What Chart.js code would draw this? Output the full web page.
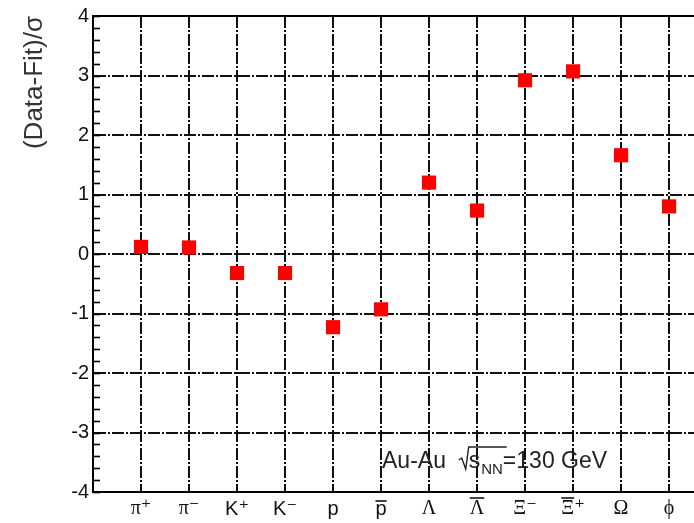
<!DOCTYPE html>
<html><head><meta charset="utf-8">
<style>html,body{margin:0;padding:0;background:#fff;overflow:hidden}#wrap{width:694px;height:523px;position:relative;overflow:hidden}</style>
<script src="https://cdn.jsdelivr.net/npm/chart.js@4/dist/chart.umd.min.js"></script>
</head><body><div id="wrap"><canvas id="c" width="704" height="523"></canvas></div>
<script>
const particles = ['π\u207A', 'π\u207B', 'K\u207A', 'K\u207B', 'p', 'p', 'Λ', 'Λ', 'Ξ\u207B', 'Ξ\u207A', 'Ω', '\u03D5'];
const antiparticle = [false, false, false, false, false, true, false, true, false, true, false, false];
const deviations = [0.12, 0.11, -0.32, -0.32, -1.23, -0.93, 1.20, 0.73, 2.92, 3.07, 1.66, 0.80];
const yTickValues = [-4, -3, -2, -1, 0, 1, 2, 3, 4];
const yMinorStep = 0.2;
const annotationText = ['Au-Au  ', 's', 'NN', '=130 GeV'];

const FONT = "'Liberation Sans', Arial, 'DejaVu Sans', sans-serif";
const SERIF = "'Liberation Serif', 'DejaVu Serif', serif";
const DASH = [12, 2, 2, 2];
const isGreek = s => /[\u0370-\u03FF]/.test(s);
const labelFont = label => ({family: isGreek(label) ? SERIF : FONT, size: 20});

const decorations = {
  id: 'decorations',
  beforeDatasetsDraw(chart) {
    const {ctx, chartArea: a, scales: {x, y}} = chart;
    ctx.save();
    ctx.strokeStyle = '#000';
    ctx.lineWidth = 2;
    // top frame line
    ctx.beginPath(); ctx.moveTo(a.left - 1, a.top); ctx.lineTo(a.right, a.top); ctx.stroke();
    // minor ticks on y axis
    ctx.lineWidth = 1.6;
    const n = Math.round((y.max - y.min) / yMinorStep);
    for (let i = 0; i <= n; i++) {
      const v = y.min + i * yMinorStep;
      const py = Math.round(y.getPixelForValue(v)) + 0.5;
      ctx.beginPath(); ctx.moveTo(a.left, py); ctx.lineTo(a.left + 7, py); ctx.stroke();
    }
    // overlines for antiparticle labels
    ctx.lineWidth = 1.6;
    ctx.strokeStyle = '#111';
    particles.forEach((lab, i) => {
      if (!antiparticle[i]) return;
      const f = labelFont(lab);
      ctx.font = f.size + 'px ' + f.family;
      const total = ctx.measureText(lab).width;
      const baseW = ctx.measureText(lab[0]).width;
      const px = x.getPixelForValue(i + 1);
      const x0 = px - total / 2;
      const yb = a.bottom + (lab[0] === 'p' ? 9 : 6);
      ctx.beginPath(); ctx.moveTo(x0, yb); ctx.lineTo(x0 + baseW, yb); ctx.stroke();
    });
    ctx.restore();
  },
  afterDraw(chart) {
    const {ctx} = chart;
    ctx.save();
    ctx.fillStyle = '#222';
    ctx.textBaseline = 'alphabetic';
    ctx.font = '23px ' + FONT;
    let x = 382, base = 468;
    ctx.fillText(annotationText[0], x, base);
    x += ctx.measureText(annotationText[0]).width;
    // sqrt sign
    ctx.strokeStyle = '#222'; ctx.lineWidth = 1.4;
    ctx.beginPath();
    ctx.moveTo(x, base - 8); ctx.lineTo(x + 3, base - 10); ctx.lineTo(x + 7, base + 1); ctx.lineTo(x + 10, base - 21); ctx.lineTo(x + 48, base - 21);
    ctx.stroke();
    x += 10;
    ctx.fillText(annotationText[1], x, base);
    x += ctx.measureText(annotationText[1]).width + 1;
    ctx.font = '15px ' + FONT;
    ctx.fillText(annotationText[2], x, base + 6);
    x += ctx.measureText(annotationText[2]).width;
    ctx.font = '23px ' + FONT;
    ctx.fillText(annotationText[3], x, base);
    ctx.restore();
  }
};

new Chart(document.getElementById('c'), {
  type: 'scatter',
  data: {
    datasets: [{
      data: deviations.map((d, i) => ({x: i + 1, y: d})),
      pointStyle: 'rect',
      pointRadius: 10,
      pointHoverRadius: 10,
      backgroundColor: '#ff0000',
      borderWidth: 0,
      showLine: false
    }]
  },
  options: {
    responsive: false,
    animation: false,
    devicePixelRatio: 1,
    layout: {padding: {top: 13, right: 0, bottom: 0, left: 0}},
    plugins: {legend: {display: false}, tooltip: {enabled: false}},
    scales: {
      x: {
        type: 'linear', min: 0, max: 12.52,
        afterBuildTicks: s => { s.ticks = particles.map((p, i) => ({value: i + 1})); },
        afterFit: s => { s.height = 31; },
        ticks: {
          callback: v => particles[v - 1],
          font: c => labelFont(particles[(c.tick ? c.tick.value : 1) - 1] || ''),
          color: '#111', padding: 5, maxRotation: 0, autoSkip: false
        },
        grid: {color: '#111', lineWidth: 2, drawTicks: false},
        border: {dash: DASH, color: '#000', width: 2}
      },
      y: {
        min: -4, max: 4,
        afterBuildTicks: s => { s.ticks = yTickValues.map(v => ({value: v})); },
        afterFit: s => { s.width = 93; },
        ticks: {font: {family: FONT, size: 20}, color: '#111', padding: 4},
        grid: {color: '#111', lineWidth: 2, drawTicks: false},
        border: {dash: DASH, color: '#000', width: 2},
        title: {display: true, text: '(Data-Fit)/σ', align: 'end', color: '#333', font: {family: FONT, size: 26}, padding: {top: 19, bottom: 0}}
      }
    }
  },
  plugins: [decorations]
});
</script></body></html>
